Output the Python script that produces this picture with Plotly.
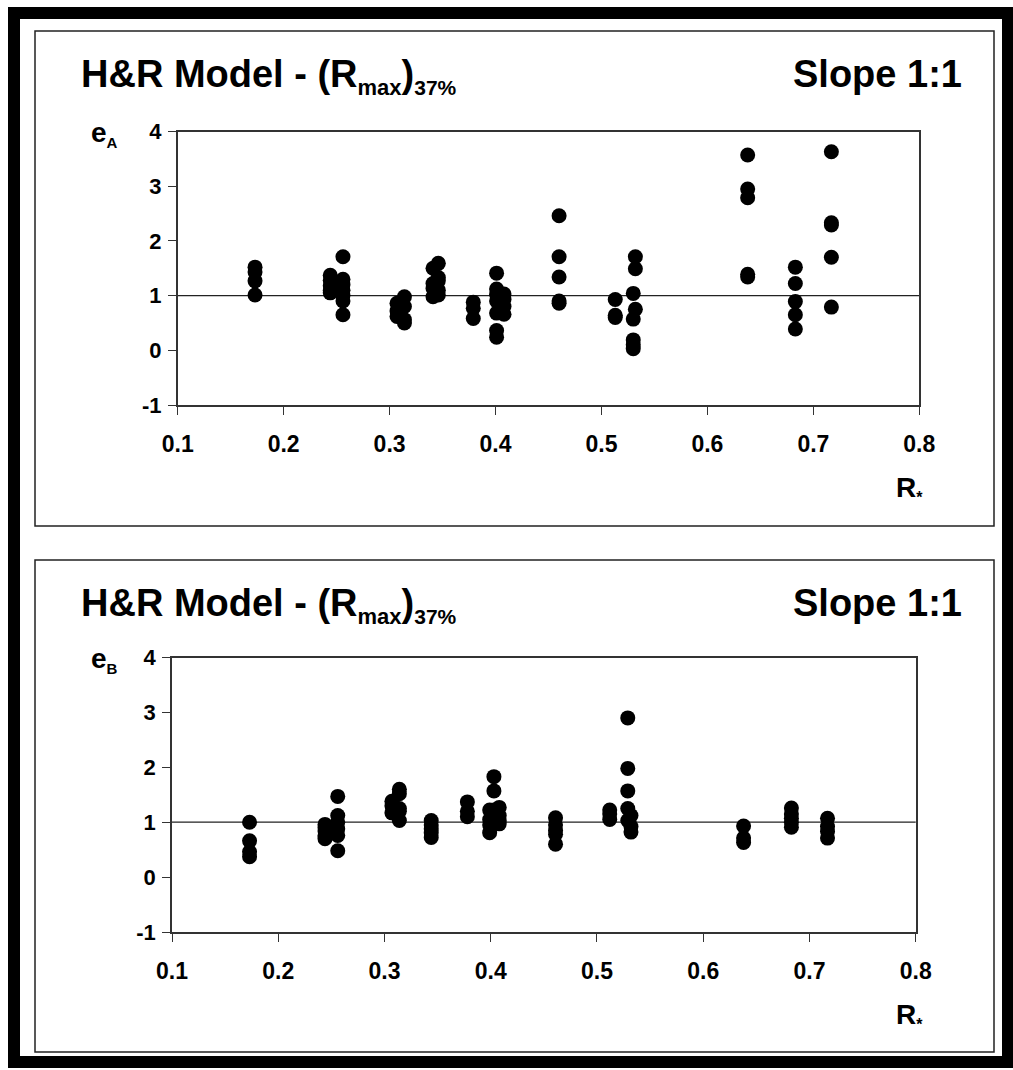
import plotly.graph_objects as go

# ---------------- data ----------------
# Top panel (e_A) : columns of R* with e_A values
top_r = [0.173, 0.244, 0.256, 0.307, 0.314, 0.341, 0.346, 0.379, 0.401, 0.408,
         0.460, 0.513, 0.530, 0.532, 0.638, 0.683, 0.717]
top_e = [
    [1.52, 1.43, 1.27, 1.01],
    [1.37, 1.28, 1.18, 1.10, 1.05],
    [1.71, 1.30, 1.20, 1.10, 1.00, 0.90, 0.65],
    [0.86, 0.72, 0.62],
    [0.98, 0.80, 0.56, 0.50],
    [1.50, 1.22, 1.13, 0.98],
    [1.59, 1.33, 1.27, 1.10, 1.01],
    [0.88, 0.77, 0.58],
    [1.41, 1.12, 1.02, 0.90, 0.68, 0.36, 0.24],
    [1.03, 0.93, 0.80, 0.66],
    [2.46, 1.71, 1.34, 0.90, 0.86],
    [0.93, 0.64, 0.60],
    [1.04, 0.57, 0.19, 0.10, 0.03],
    [1.71, 1.49, 0.75],
    [3.57, 2.95, 2.79, 1.39, 1.34],
    [1.52, 1.22, 0.89, 0.65, 0.39],
    [3.63, 2.33, 2.29, 1.70, 0.79],
]

# Bottom panel (e_B)
bot_r = [0.173, 0.244, 0.256, 0.307, 0.314, 0.344, 0.378, 0.399, 0.403, 0.408,
         0.461, 0.512, 0.529, 0.532, 0.638, 0.683, 0.717]
bot_e = [
    [1.00, 0.66, 0.46, 0.37],
    [0.96, 0.90, 0.84, 0.76, 0.70],
    [1.47, 1.12, 1.00, 0.88, 0.76, 0.48],
    [1.38, 1.30, 1.17],
    [1.60, 1.52, 1.25, 1.20, 1.03],
    [1.03, 0.95, 0.88, 0.81, 0.72],
    [1.37, 1.20, 1.10],
    [1.22, 1.05, 0.95, 0.81],
    [1.83, 1.57, 1.22],
    [1.27, 1.12, 1.03, 0.97],
    [1.08, 0.95, 0.85, 0.78, 0.60],
    [1.22, 1.15, 1.05],
    [2.90, 1.98, 1.57, 1.25, 1.03],
    [1.12, 0.92, 0.82],
    [0.93, 0.71, 0.63],
    [1.26, 1.15, 1.07, 1.00, 0.91],
    [1.07, 0.92, 0.83, 0.71],
]

x_ticks = [0.1, 0.2, 0.3, 0.4, 0.5, 0.6, 0.7, 0.8]
y_ticks = [-1, 0, 1, 2, 3, 4]
title_left = "<b>H&amp;R Model - (R<sub><span style='font-size:22px'>max</span></sub>)<sub><span style='font-size:21px'>37%</span></sub></b>"
title_right = "<b>Slope 1:1</b>"
ylabels = ["<b>e<sub><span style='font-size:15px'>A</span></sub></b>",
           "<b>e<sub><span style='font-size:15px'>B</span></sub></b>"]
xlabel = "<b>R<sub><span style='font-size:16px'>*</span></sub></b>"

# --------------- figure ---------------
W, H = 1013, 1070
FONT = "Liberation Sans, Arial, sans-serif"

def px(x):
    return x / W

def py(y):
    return 1 - y / H

def flat(rs, es):
    xs, ys = [], []
    for r, col in zip(rs, es):
        for e in col:
            xs.append(r)
            ys.append(e)
    return xs, ys

fig = go.Figure()
tx, ty = flat(top_r, top_e)
bx, by = flat(bot_r, bot_e)
marker = dict(color="black", size=15, symbol="circle", line=dict(width=0))
fig.add_trace(go.Scatter(x=tx, y=ty, mode="markers", marker=marker, xaxis="x", yaxis="y",
                         showlegend=False, hoverinfo="skip"))
fig.add_trace(go.Scatter(x=bx, y=by, mode="markers", marker=marker, xaxis="x2", yaxis="y2",
                         showlegend=False, hoverinfo="skip"))

axis_common = dict(showline=True, mirror=True, linecolor="#333333", linewidth=1.6,
                   ticks="outside", ticklen=8, tickwidth=1, tickcolor="#333333",
                   showgrid=False, zeroline=False, fixedrange=True, automargin=False)
xfont = dict(family=FONT, size=23, color="black", weight="bold")
yfont = dict(family=FONT, size=22, color="black", weight="bold")

# panel geometry (pixels)
panels = [
    dict(xl=177.7, xr=919.3, yt=131.5, yb=405.0, box=(35, 31, 994, 526)),
    dict(xl=172.0, xr=915.7, yt=657.5, yb=932.0, box=(35, 560, 994, 1052)),
]

layout = dict(
    width=W, height=H, autosize=False,
    margin=dict(l=0, r=0, t=0, b=0, pad=0, autoexpand=False),
    paper_bgcolor="white", plot_bgcolor="white",
    showlegend=False,
)
for i, p in enumerate(panels):
    sx = "" if i == 0 else str(i + 1)
    layout["xaxis" + sx] = dict(axis_common, domain=[px(p["xl"]), px(p["xr"])], range=[0.1, 0.8],
                                tickvals=x_ticks, ticktext=[str(v) for v in x_ticks],
                                tickfont=xfont, ticklabelstandoff=10,
                                anchor="y" + sx)
    layout["yaxis" + sx] = dict(axis_common, domain=[py(p["yb"]), py(p["yt"])], range=[-1, 4],
                                tickvals=y_ticks, ticktext=[str(v) for v in y_ticks],
                                tickfont=yfont, ticklabelstandoff=2,
                                anchor="x" + sx)
fig.update_layout(**layout)

shapes = []
# outer thick black frame
shapes.append(dict(type="rect", xref="paper", yref="paper",
                   x0=px(14), x1=px(1008), y0=py(1062), y1=py(13),
                   line=dict(color="black", width=12), fillcolor="rgba(0,0,0,0)", layer="above"))
annotations = []
for i, p in enumerate(panels):
    sx = "" if i == 0 else str(i + 1)
    x0, y0, x1, y1 = p["box"]
    shapes.append(dict(type="rect", xref="paper", yref="paper",
                       x0=px(x0), x1=px(x1), y0=py(y1), y1=py(y0),
                       line=dict(color="#222222", width=1.5), fillcolor="rgba(0,0,0,0)", layer="below"))
    # reference line at e = 1
    shapes.append(dict(type="line", xref="x" + sx + " domain", yref="y" + sx,
                       x0=0, x1=1, y0=1, y1=1, line=dict(color="#222222", width=1.2), layer="below"))
    off = y0 - 31
    annotations.append(dict(text=title_left, xref="paper", yref="paper", x=px(79), y=py(51 + off),
                            xanchor="left", yanchor="top", showarrow=False,
                            font=dict(family=FONT, size=38, color="black")))
    annotations.append(dict(text=title_right, xref="paper", yref="paper", x=px(964), y=py(51 + off),
                            xanchor="right", yanchor="top", showarrow=False,
                            font=dict(family=FONT, size=38, color="black")))
    annotations.append(dict(text=ylabels[i], xref="paper", yref="paper", x=px(89), y=py(p["yt"] + 2),
                            xanchor="left", yanchor="middle", showarrow=False,
                            font=dict(family=FONT, size=28, color="black")))
    annotations.append(dict(text=xlabel, xref="paper", yref="paper", x=px(894), y=py(p["yb"] + 84),
                            xanchor="left", yanchor="middle", showarrow=False,
                            font=dict(family=FONT, size=28, color="black")))

fig.update_layout(shapes=shapes, annotations=annotations)
fig.write_html("out.html", config={"displayModeBar": False, "responsive": False},
               post_script="document.body.style.margin='0px';")
